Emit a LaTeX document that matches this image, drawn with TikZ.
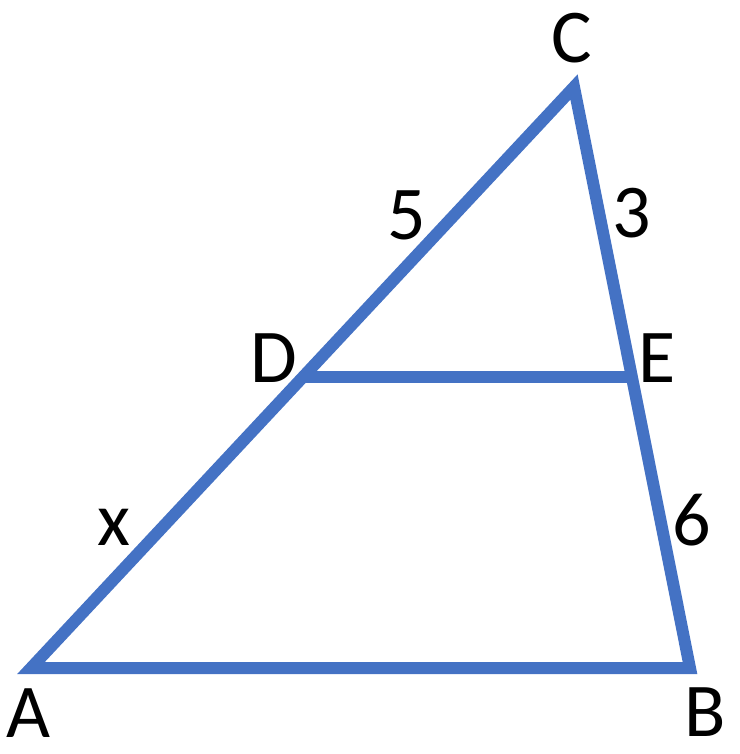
\documentclass[tikz,border=0pt]{standalone}
\usepackage{fontspec}
\setmainfont{Carlito}
\usepackage{xcolor}
\definecolor{triblue}{RGB}{68,114,196}
\begin{document}
\begin{tikzpicture}[x=1pt, y=-1pt, every node/.style={font=\fontsize{76}{90}\selectfont, inner sep=0pt},
    edge/.style={draw=triblue, line width=12pt, line join=miter}]
                \useasboundingbox (0,0) rectangle (739,754);
                % vertices of the triangle
                \coordinate (A) at (31,668);
                \coordinate (B) at (690,668);
                \coordinate (C) at (574,87);
                \coordinate (D) at (303,377);
                \coordinate (E) at (632,377);

                % sides and the parallel segment
                \draw[edge] (A) -- (B) -- (C) -- cycle;
                \draw[edge] (D) -- (E);

                % vertex labels
                \node (lA) at (28,713) {A};
                \node (lB) at (705,712) {B};
                \node (lC) at (572,38) {C};
                \node (lD) at (274,358) {D};
                \node (lE) at (657,358) {E};

                % segment lengths
                \node (l5) at (407,215) {5};
                \node (l3) at (632,213) {3};
                \node (lx) at (114,527) {x};
                \node (l6) at (692,520) {6};
            \end{tikzpicture}
\end{document}
